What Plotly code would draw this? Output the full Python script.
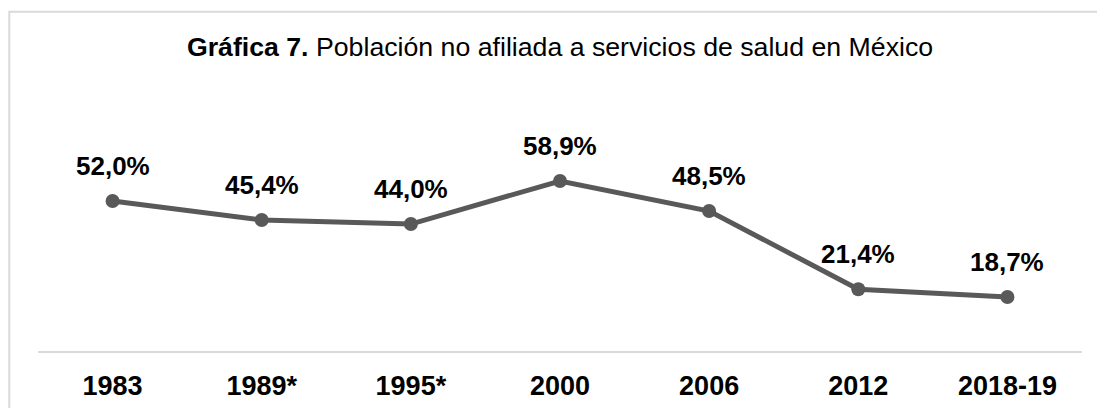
import plotly.graph_objects as go

# data
years = ["1983", "1989*", "1995*", "2000", "2006", "2012", "2018-19"]
pct_no_affil = [52.0, 45.4, 44.0, 58.9, 48.5, 21.4, 18.7]
pct_labels = ["52,0%", "45,4%", "44,0%", "58,9%", "48,5%", "21,4%", "18,7%"]

LINE_GREY = "#595959"
FRAME_GREY = "#d9d9d9"
FONT = "Liberation Sans, Arial, sans-serif"

fig = go.Figure()
fig.add_trace(
    go.Scatter(
        x=years,
        y=pct_no_affil,
        mode="lines+markers",
        line=dict(color=LINE_GREY, width=5),
        marker=dict(color=LINE_GREY, size=14),
        hoverinfo="skip",
    )
)

# value labels above each point (x by category index: "1983" would read as a number)
for i, (val, lab) in enumerate(zip(pct_no_affil, pct_labels)):
    fig.add_annotation(
        x=i, y=val, text=f"<b>{lab}</b>", showarrow=False,
        yshift=35, font=dict(family=FONT, size=26, color="black"),
    )

# outer chart frame (runs off the right and bottom of the picture)
fig.add_shape(
    type="rect", xref="paper", yref="paper",
    x0=-0.0275, x1=1.2, y0=-1.0, y1=1.68,
    line=dict(color=FRAME_GREY, width=2), fillcolor="rgba(0,0,0,0)",
)

fig.update_layout(
    width=1097,
    height=408,
    paper_bgcolor="white",
    plot_bgcolor="white",
    showlegend=False,
    margin=dict(l=38, r=15, t=149, b=57),
    font=dict(family=FONT, color="black"),
    title=dict(
        text="<b>Gráfica 7.</b> Población no afiliada a servicios de salud en México",
        x=0.5, xref="paper", xanchor="center",
        y=1 - 47 / 408, yref="container", yanchor="middle",
        font=dict(family=FONT, size=26.7, color="black"),
    ),
)
fig.update_xaxes(
    type="category",
    range=[-0.5, 6.5],
    automargin=False,
    showgrid=False,
    zeroline=False,
    showline=True,
    linecolor=FRAME_GREY,
    linewidth=1.5,
    ticks="",
    ticklabelstandoff=10,
    tickfont=dict(family=FONT, size=27, color="black", weight="bold"),
)
fig.update_yaxes(range=[0, 70], visible=False, automargin=False,
                 showgrid=False, zeroline=False)

fig.write_html(
    "out.html",
    config={"displayModeBar": False},
    post_script="document.body.style.margin='0';",
)
